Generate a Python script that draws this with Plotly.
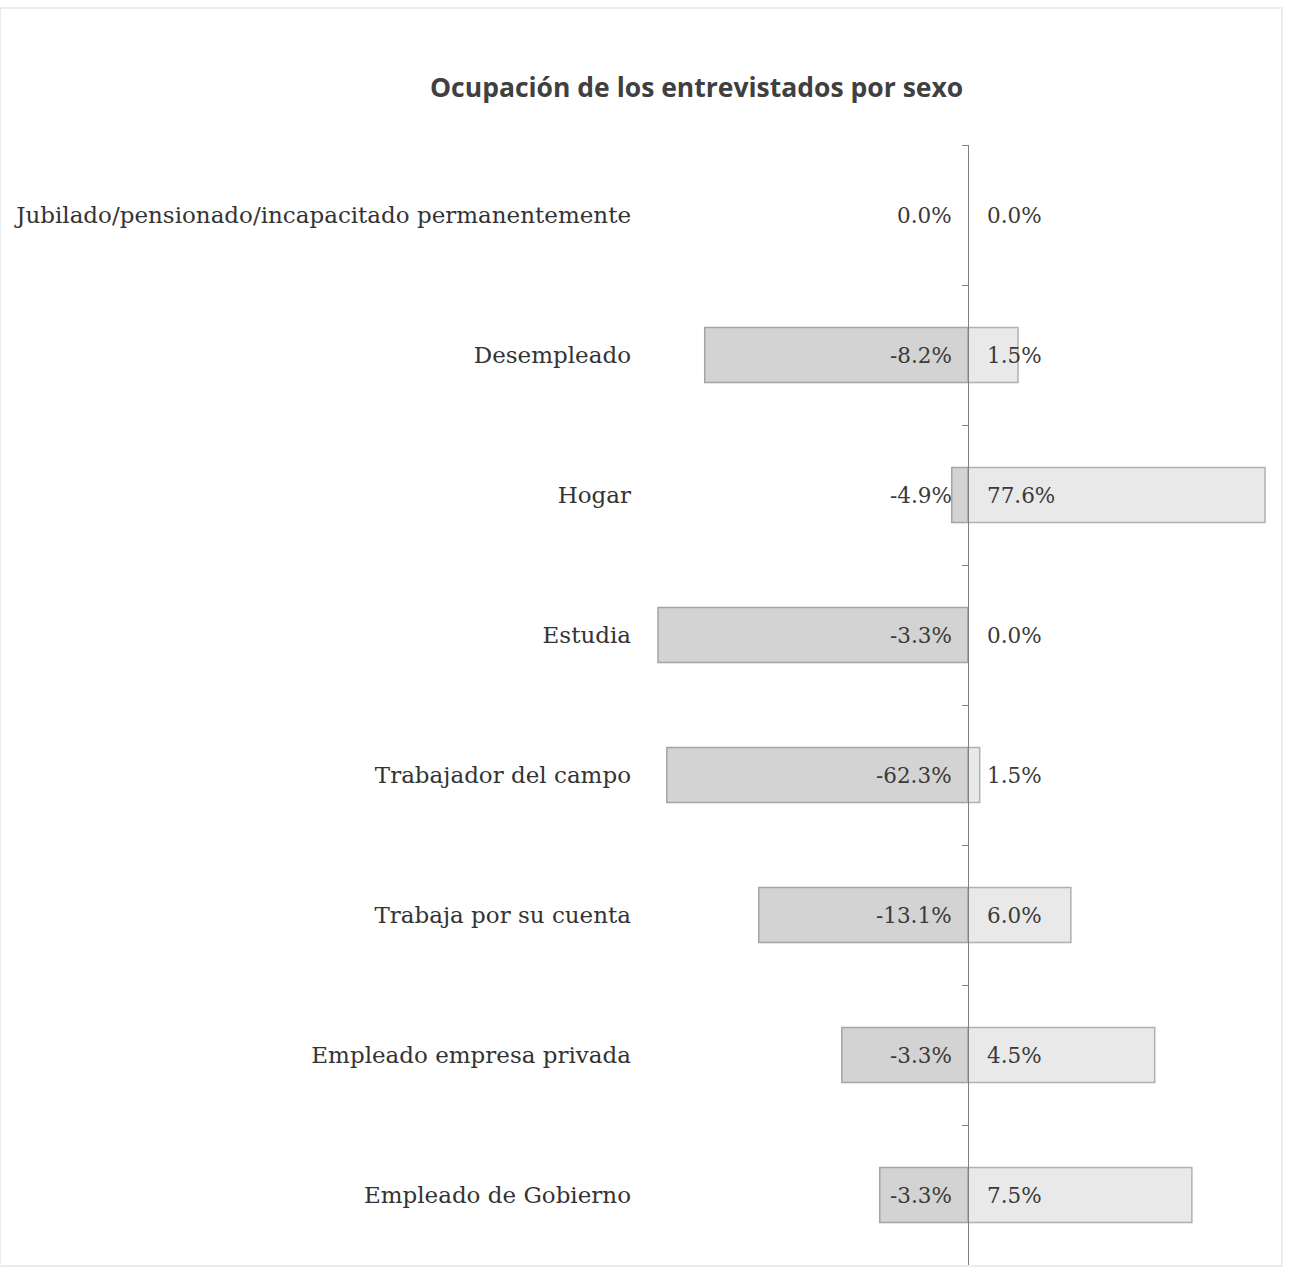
import plotly.graph_objects as go

# Categories, top to bottom
categories = [
    "Jubilado/pensionado/incapacitado permanentemente",
    "Desempleado",
    "Hogar",
    "Estudia",
    "Trabajador del campo",
    "Trabaja por su cuenta",
    "Empleado empresa privada",
    "Empleado de Gobierno",
]
# Bar lengths as drawn in the picture (left side = men, right side = women)
men_bar = [0.0, -68.7, -4.2, -80.9, -78.6, -54.6, -32.9, -23.0]
women_bar = [0.0, 13.1, 77.6, 0.0, 3.1, 26.9, 48.8, 58.5]
# Data labels as printed on the chart
men_label = ["0.0%", "-8.2%", "-4.9%", "-3.3%", "-62.3%", "-13.1%", "-3.3%", "-3.3%"]
women_label = ["0.0%", "1.5%", "77.6%", "0.0%", "1.5%", "6.0%", "4.5%", "7.5%"]

x_min, x_max = -85.6, 78.9
n = len(categories)
serif = "DejaVu Serif, Cambria, serif"

fig = go.Figure()
fig.add_trace(go.Bar(
    y=categories, x=men_bar, orientation="h", name="Hombres",
    marker=dict(color="#d3d3d3",
                line=dict(color="#a4a4a4", width=[0 if v == 0 else 1.5 for v in men_bar])),
    hoverinfo="skip",
))
fig.add_trace(go.Bar(
    y=categories, x=women_bar, orientation="h", name="Mujeres",
    marker=dict(color="#e9e9e9",
                line=dict(color="#b0b0b0", width=[0 if v == 0 else 1.5 for v in women_bar])),
    hoverinfo="skip",
))
# invisible trace to carry the central category axis
fig.add_trace(go.Scatter(
    y=categories, x=[0] * n, yaxis="y2", mode="markers",
    marker=dict(opacity=0), showlegend=False, hoverinfo="skip",
))

annotations = []
for c, ml, wl in zip(categories, men_label, women_label):
    annotations.append(dict(x=0, y=c, xref="x", yref="y", text=ml, showarrow=False,
                            xanchor="right", xshift=-14, font=dict(family=serif, size=21.5, color="#3a3a3a")))
    annotations.append(dict(x=0, y=c, xref="x", yref="y", text=wl, showarrow=False,
                            xanchor="left", xshift=17, font=dict(family=serif, size=21.5, color="#3a3a3a")))

yrange = [n - 0.5, -0.5]
fig.update_layout(
    width=1290, height=1268,
    margin=dict(l=640, r=20, t=145, b=3),
    paper_bgcolor="white", plot_bgcolor="white",
    barmode="relative", bargap=0.607,
    showlegend=False,
    title=dict(text="<b>Ocupación de los entrevistados por sexo</b>", x=0.54, xanchor="center",
               y=1 - 88 / 1268, yanchor="middle", xref="container", yref="container",
               font=dict(family="Open Sans, Noto Sans, sans-serif", size=26.5, color="#404040")),
    xaxis=dict(range=[x_min, x_max], showticklabels=False, showgrid=False, ticks="",
               zeroline=False, showline=False),
    yaxis=dict(categoryorder="array", categoryarray=categories, range=yrange,
               showgrid=False, ticks="", showline=False, ticklabelstandoff=8,
               tickfont=dict(family=serif, size=23, color="#333333")),
    yaxis2=dict(overlaying="y", anchor="free", position=(0 - x_min) / (x_max - x_min),
                categoryorder="array", categoryarray=categories, range=yrange,
                showticklabels=False, showgrid=False, showline=True, linecolor="#7f7f7f",
                linewidth=1.2, ticks="outside", tickson="boundaries", ticklen=6,
                tickcolor="#7f7f7f", side="left"),
    annotations=annotations,
    shapes=[dict(type="rect", xref="paper", yref="paper", x0=-640 / 630, x1=1 + 12 / 630,
                 y0=-0.001, y1=1 + 137 / 1120, line=dict(color="#ececec", width=2))],
)

fig.write_html("out.html")
